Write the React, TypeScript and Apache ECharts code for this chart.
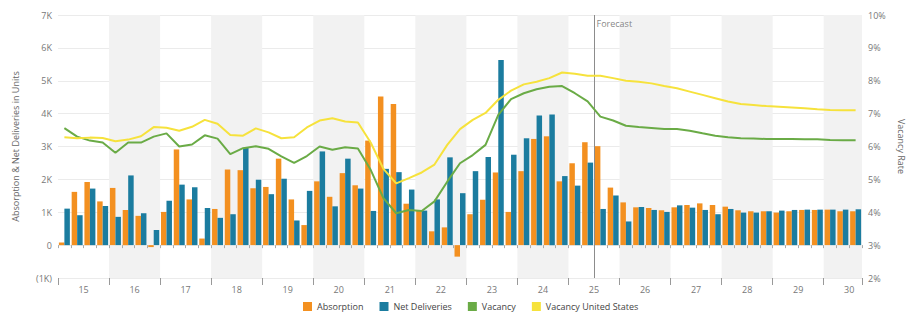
import React, { useEffect, useRef } from 'react';
import * as echarts from 'echarts';

const years = ['15', '16', '17', '18', '19', '20', '21', '22', '23', '24', '25', '26', '27', '28', '29', '30'];
const quarterNames = ['Q1', 'Q2', 'Q3', 'Q4'];
const forecastStart = '25Q3';

const absorption = [
  80, 1620, 1920, 1330,
  1740, 1070, 890, -60,
  1010, 2910, 1390, 200,
  1100, 2300, 2280, 1730,
  1770, 2630, 1390, 610,
  1940, 1470, 2190, 1820,
  3180, 4520, 4290, 1260,
  1050, 420, 540, -350,
  940, 1380, 2210, 1010,
  2250, 3230, 3310, 1940,
  2490, 3130, 3010, 1750,
  1300, 1150, 1130, 1060,
  1150, 1220, 1270, 1220,
  1170, 1060, 1030, 1030,
  990, 1030, 1070, 1070,
  1080, 1030, 1030,
];

const netDeliveries = [
  1110, 910, 1720, 1190,
  860, 2120, 970, 460,
  1350, 1840, 1760, 1130,
  830, 940, 2960, 1990,
  1550, 2020, 750, 1650,
  2850, 1180, 2630, 1720,
  1040, 2320, 2220, 1690,
  1050, 1390, 2670, 1580,
  2250, 2680, 5630, 2750,
  3250, 3940, 3970, 2100,
  1810, 2510, 1100, 1510,
  720, 1160, 1070, 1010,
  1210, 1140, 1070, 940,
  1100, 990, 990, 1030,
  1050, 1070, 1080, 1080,
  1080, 1080, 1090,
];

const vacancy = [
  6.56, 6.30, 6.18, 6.12,
  5.81, 6.12, 6.12, 6.30,
  6.40, 6.00, 6.06, 6.34,
  6.24, 5.77, 5.95, 6.01,
  5.93, 5.70, 5.50, 5.71,
  6.00, 5.90, 5.98, 5.94,
  5.29, 4.43, 3.97, 4.07,
  4.04, 4.33, 4.93, 5.49,
  5.74, 6.05, 6.96, 7.44,
  7.62, 7.74, 7.82, 7.84,
  7.62, 7.37, 6.91, 6.79,
  6.63, 6.59, 6.56, 6.53,
  6.53, 6.48, 6.40, 6.33,
  6.28, 6.25, 6.24, 6.23,
  6.23, 6.23, 6.22, 6.22,
  6.20, 6.19, 6.19,
];

const vacancyUS = [
  6.28, 6.25, 6.27, 6.26,
  6.16, 6.21, 6.31, 6.59,
  6.57, 6.48, 6.60, 6.81,
  6.69, 6.35, 6.33, 6.55,
  6.43, 6.25, 6.28, 6.58,
  6.79, 6.86, 6.76, 6.73,
  6.12, 5.32, 4.88, 5.04,
  5.21, 5.45, 6.05, 6.53,
  6.81, 7.02, 7.42, 7.70,
  7.89, 7.97, 8.08, 8.25,
  8.21, 8.15, 8.15, 8.08,
  8.00, 7.97, 7.92, 7.84,
  7.77, 7.67, 7.57, 7.47,
  7.37, 7.29, 7.26, 7.23,
  7.21, 7.19, 7.16, 7.13,
  7.11, 7.10, 7.10,
];

const quarters = years
  .flatMap((y) => quarterNames.map((q) => y + q))
  .slice(0, absorption.length);

const COLORS = {
  absorption: '#F39020',
  deliveries: '#1B7C9F',
  vacancy: '#6AAB46',
  vacancyUS: '#F6E23C',
};

const FONT = '"Open Sans", "Noto Sans", sans-serif';

export default function App() {
  const ref = useRef<HTMLDivElement>(null);

  useEffect(() => {
    if (!ref.current) return;
    const chart = echarts.init(ref.current, null, { renderer: 'svg', width: 906, height: 313 });
    const n = quarters.length;
    const forecastIndex = quarters.indexOf(forecastStart);

    const option: any = {
      animation: false,
      backgroundColor: '#ffffff',
      textStyle: { fontFamily: FONT },
      grid: {
        left: 58,
        right: 44,
        top: 15,
        bottom: 35,
        containLabel: false,
        outerBoundsMode: 'none',
      },
      legend: {
        data: ['Absorption', 'Net Deliveries', 'Vacancy', 'Vacancy United States'],
        left: 298,
        top: 297,
        itemWidth: 9,
        itemHeight: 9,
        itemGap: 16,
        icon: 'rect',
        textStyle: { fontSize: 9, color: '#444', fontFamily: FONT },
      },
      xAxis: [
        {
          type: 'category',
          data: quarters,
          position: 'bottom',
          boundaryGap: true,
          axisLine: { show: false },
          axisTick: { show: true, interval: 0, length: 3, lineStyle: { color: '#aaa' } },
          axisLabel: { show: false },
          splitLine: { show: false },
          splitArea: {
            show: true,
            interval: 3,
            areaStyle: { color: ['rgba(255,255,255,0)', '#f2f2f2'] },
          },
        },
        {
          type: 'value',
          min: 0,
          max: n,
          interval: 4,
          position: 'bottom',
          axisLine: { show: false },
          axisTick: { show: true, length: 7, lineStyle: { color: '#999' } },
          axisLabel: { show: false },
          splitLine: { show: false },
        },
        {
          type: 'value',
          min: 0,
          max: n,
          interval: 2,
          position: 'bottom',
          axisLine: { show: false },
          axisTick: { show: false },
          splitLine: { show: false },
          axisLabel: {
            show: true,
            margin: 7,
            fontSize: 9,
            color: '#777',
            formatter: (v: number) => (v % 4 === 2 ? years[(v - 2) / 4] ?? '' : ''),
          },
        },
      ],
      yAxis: [
        {
          type: 'value',
          min: -1000,
          max: 7000,
          interval: 1000,
          name: 'Absorption & Net Deliveries in Units',
          nameLocation: 'middle',
          nameGap: 38,
          nameTextStyle: { fontSize: 9, color: '#666' },
          axisLine: { show: false },
          axisTick: { show: false },
          axisLabel: {
            fontSize: 9,
            color: '#777',
            margin: 6,
            formatter: (v: number) => (v === 0 ? '0' : v < 0 ? `(${-v / 1000}K)` : `${v / 1000}K`),
          },
          splitLine: { lineStyle: { color: '#ebebeb', width: 1 } },
        },
        {
          type: 'value',
          min: 2,
          max: 10,
          interval: 1,
          position: 'right',
          name: 'Vacancy Rate',
          nameLocation: 'middle',
          nameGap: 31,
          nameRotate: -90,
          nameTextStyle: { fontSize: 9, color: '#666' },
          axisLine: { show: false },
          axisTick: { show: false },
          axisLabel: { fontSize: 9, color: '#777', margin: 6, formatter: '{value}%' },
          splitLine: { show: false },
        },
      ],
      series: [
        {
          name: 'Absorption',
          type: 'bar',
          xAxisIndex: 0,
          yAxisIndex: 0,
          data: absorption,
          itemStyle: { color: COLORS.absorption },
          barGap: '0%',
          barCategoryGap: '14%',
        },
        {
          name: 'Net Deliveries',
          type: 'bar',
          xAxisIndex: 0,
          yAxisIndex: 0,
          data: netDeliveries,
          itemStyle: { color: COLORS.deliveries },
          barGap: '0%',
          barCategoryGap: '14%',
        },
        {
          name: 'Vacancy',
          type: 'line',
          xAxisIndex: 0,
          yAxisIndex: 1,
          data: vacancy,
          showSymbol: false,
          symbol: 'none',
          lineStyle: { color: COLORS.vacancy, width: 2 },
          itemStyle: { color: COLORS.vacancy },
          z: 5,
        },
        {
          name: 'Vacancy United States',
          type: 'line',
          xAxisIndex: 0,
          yAxisIndex: 1,
          data: vacancyUS,
          showSymbol: false,
          symbol: 'none',
          lineStyle: { color: COLORS.vacancyUS, width: 2 },
          itemStyle: { color: COLORS.vacancyUS },
          z: 5,
        },
        {
          name: 'forecast',
          type: 'scatter',
          xAxisIndex: 1,
          yAxisIndex: 0,
          data: [[forecastIndex, 7000]],
          symbolSize: 1,
          itemStyle: { color: 'rgba(0,0,0,0)' },
          silent: true,
          label: {
            show: true,
            formatter: 'Forecast',
            position: 'right',
            distance: 2,
            offset: [0, 8],
            fontSize: 9,
            color: '#666666',
          },
          markLine: {
            silent: true,
            symbol: 'none',
            label: { show: false },
            lineStyle: { color: '#8c8c8c', width: 1, type: 'solid', opacity: 1 },
            data: [{ xAxis: forecastIndex }],
          },
          z: 6,
        },
      ],
    };

    chart.setOption(option);
    return () => chart.dispose();
  }, []);

  return (
    <div
      ref={ref}
      style={{ position: 'fixed', left: 0, top: 0, width: 906, height: 313, background: '#fff' }}
    />
  );
}
